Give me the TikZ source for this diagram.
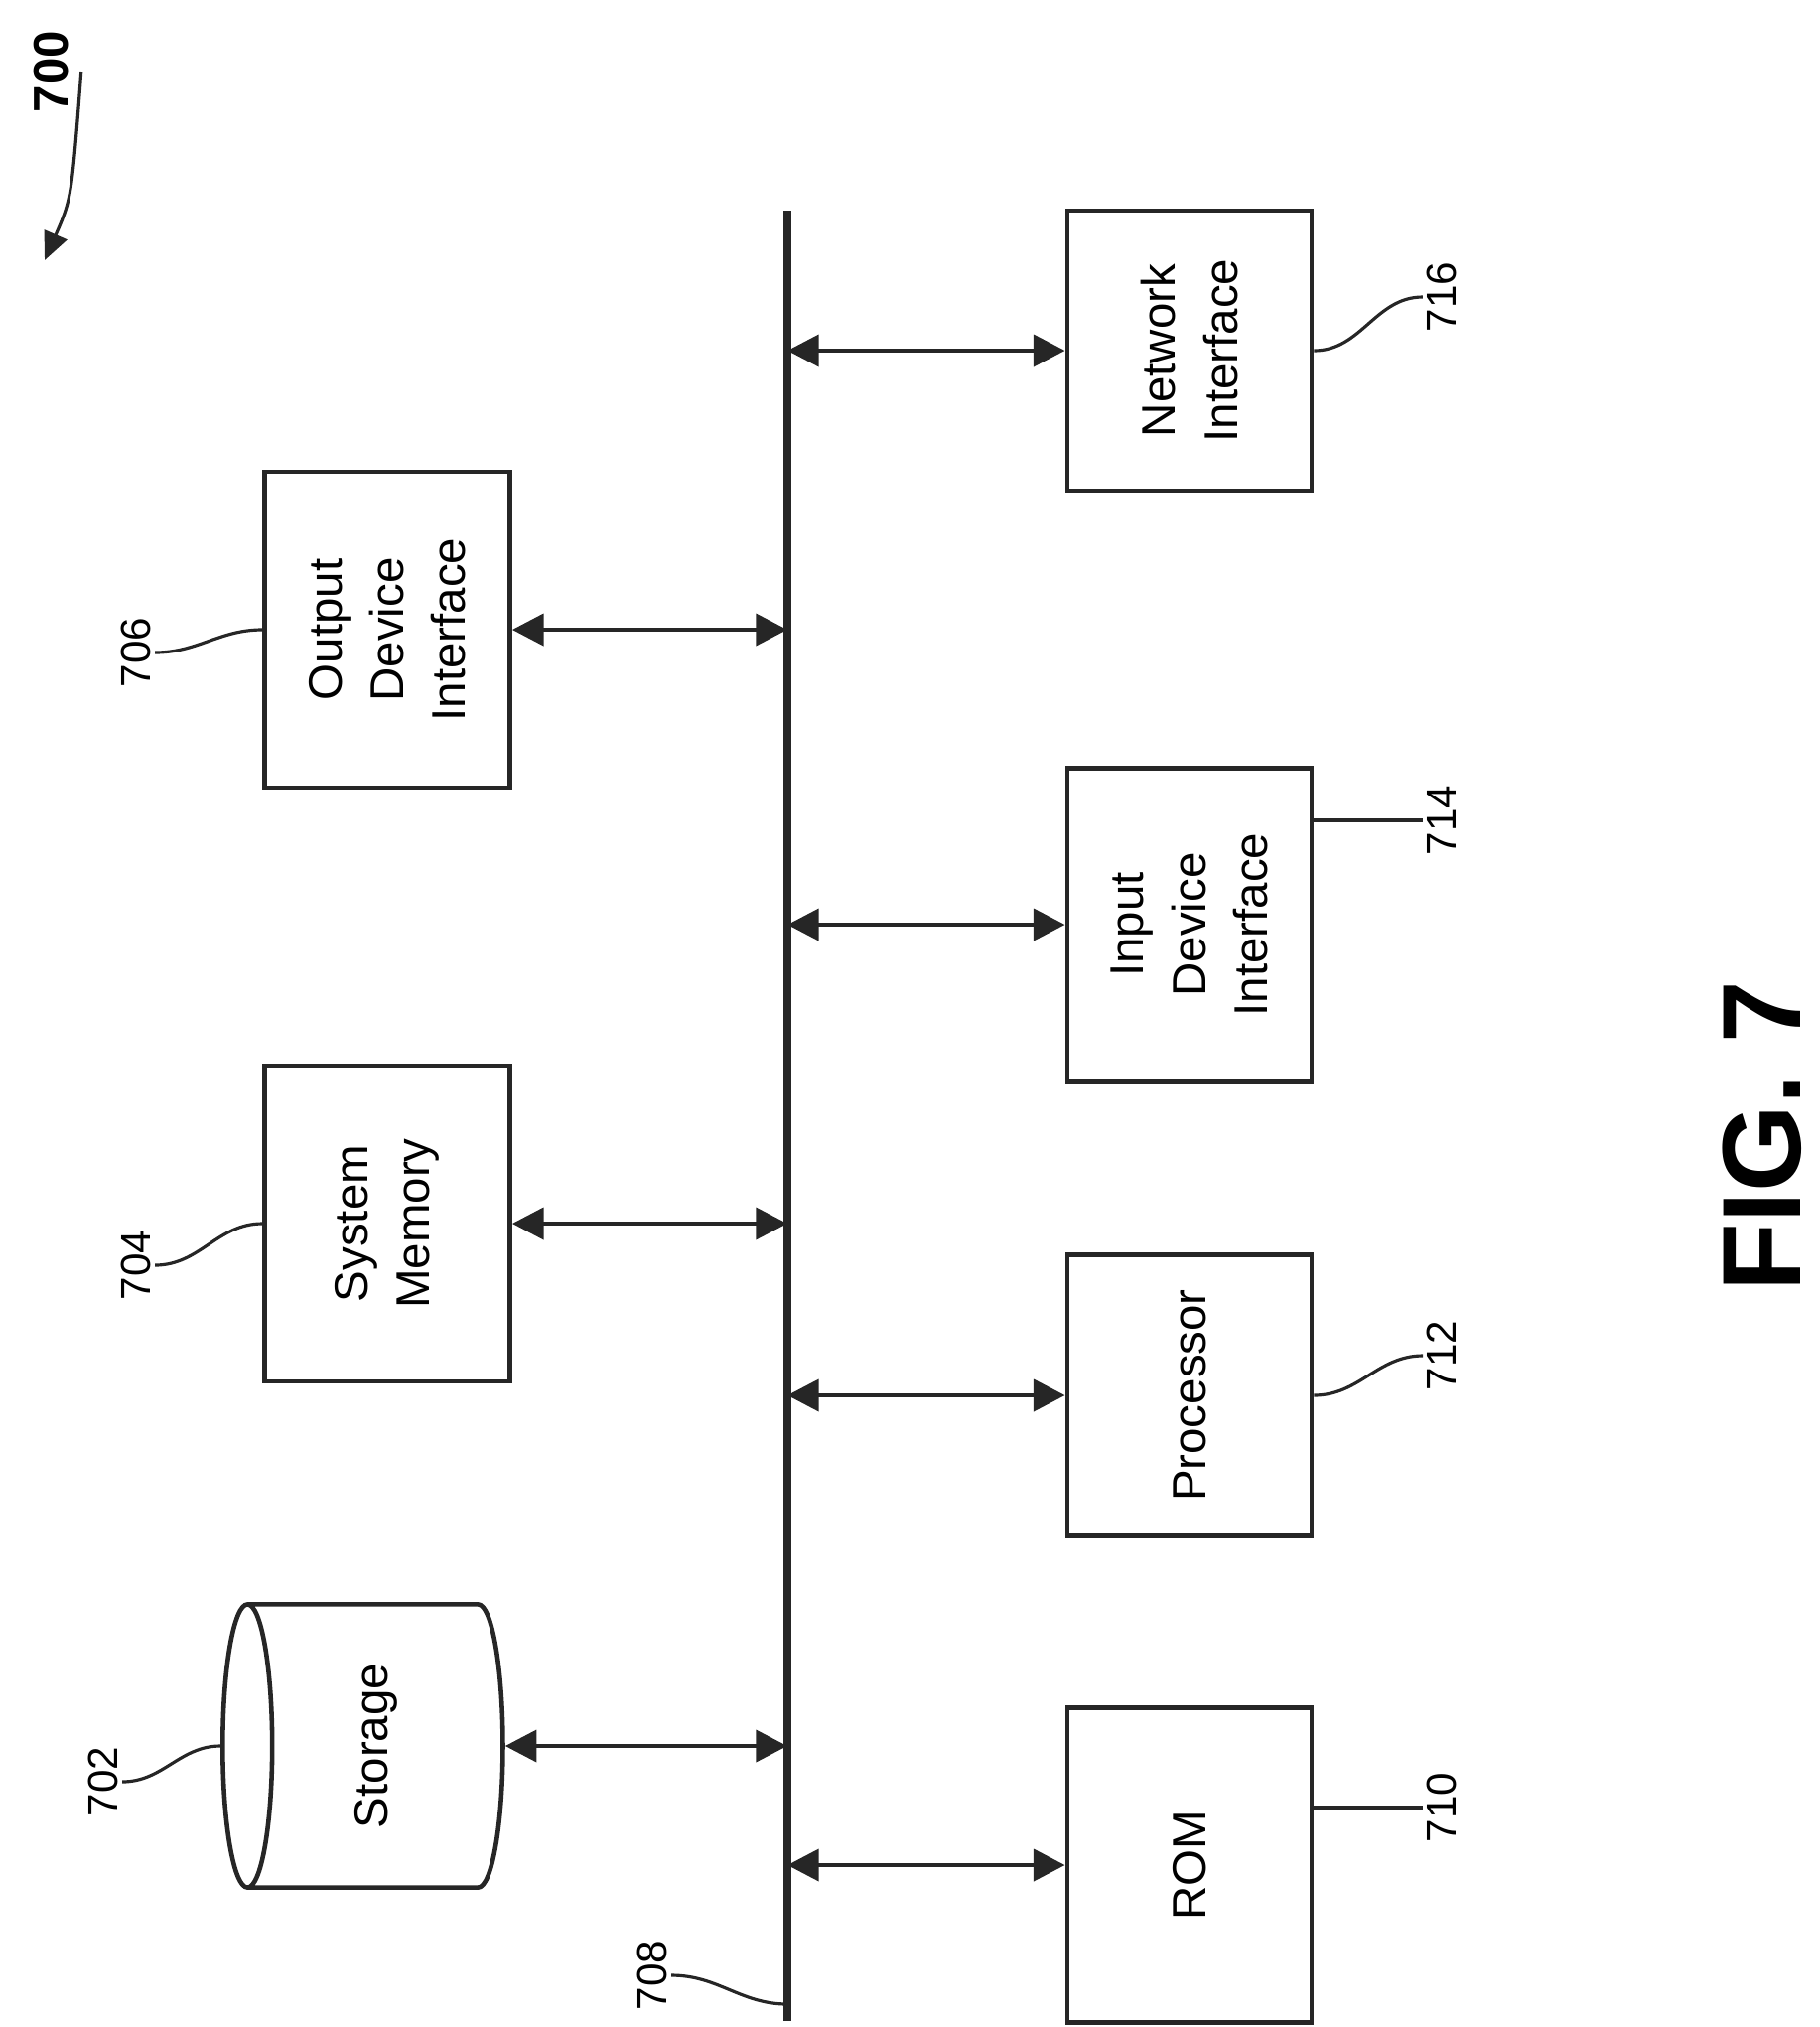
\documentclass[tikz,border=0pt]{standalone}
\usepackage{fontspec}
\setmainfont{Liberation Sans}
\usetikzlibrary{shapes.geometric, arrows.meta}
\newcommand{\leadline}[2]{
\draw[lead] (#1) to[out=0, in=180] (#2);
}
\begin{document}
\begin{tikzpicture}[x=0.01cm, y=-0.01cm,
% blocks
box/.style={draw=black!85, line width=1.3pt, rotate=90, align=center, font=\fontsize{13.5}{17.7}\selectfont, inner sep=0},
store/.style={box, cylinder, shape border rotate=90, aspect=0.3},
% reference numerals
num/.style={rotate=90, font=\fontsize{12}{14}\selectfont, inner sep=1pt},
lead/.style={black!85, line width=0.9pt},
% bus and links
bus/.style={black!85, line width=2.5pt},
link/.style={black!85, line width=1.4pt, {Triangle[length=9pt, width=9pt]}-{Triangle[length=9pt, width=9pt]}}
]

\useasboundingbox (0,0) rectangle (1832,2041);

% bus
\coordinate (bustop) at (793,212);
\coordinate (busbot) at (793,2035);
\draw[bus] (bustop) -- (busbot);

% right column
\node[box, minimum width=2.82cm, minimum height=2.46cm] (netif) at (1198,353) {Network\\Interface};
\node[box, minimum width=3.15cm, minimum height=2.46cm] (inif) at (1198,931) {Input\\Device\\Interface};
\node[box, minimum width=2.83cm, minimum height=2.46cm] (proc) at (1198,1405) {Processor};
\node[box, minimum width=3.17cm, minimum height=2.46cm] (rom) at (1198,1878) {ROM};

% left column
\node[box, minimum width=3.18cm, minimum height=2.47cm] (outif) at (390,634) {Output\\Device\\Interface};
\node[box, minimum width=3.18cm, minimum height=2.47cm] (sysmem) at (390,1232) {System\\Memory};
\node[store, minimum width=2.85cm, minimum height=2.82cm] (storage) at (379,1758) {Storage};

% links
\draw[link] (bustop|-netif) -- (netif.north|-netif);
\draw[link] (bustop|-inif) -- (inif.north|-inif);
\draw[link] (bustop|-proc) -- (proc.north|-proc);
\draw[link] (bustop|-rom) -- (rom.north|-rom);
\draw[link] (outif.south|-outif) -- (bustop|-outif);
\draw[link] (sysmem.south|-sysmem) -- (bustop|-sysmem);
\draw[link] (storage.south|-storage) -- (bustop|-storage);

% numerals
\node[num] (n716) at (1452,299) {716};
\node[num] (n714) at (1452,826) {714};
\node[num] (n712) at (1452,1365) {712};
\node[num] (n710) at (1452,1820) {710};
\node[num] (n706) at (137,657) {706};
\node[num] (n704) at (137,1274) {704};
\node[num] (n702) at (104,1794) {702};
\node[num] (n708) at (657,1989) {708};

\leadline{netif.south|-netif}{n716.north}
\leadline{inif.south|-n714}{n714.north}
\leadline{proc.south|-proc}{n712.north}
\leadline{rom.south|-n710}{n710.north}
\leadline{n706.south}{outif.north|-outif}
\leadline{n704.south}{sysmem.north|-sysmem}
\leadline{n702.south}{storage.north|-storage}
\coordinate (busend) at (793,2018);
\leadline{n708.south}{busend}

% figure number
\node[rotate=90, font=\fontsize{14}{16}\selectfont\bfseries] (n700) at (52,72) {700};
\coordinate (tip700) at (45,262);
\draw[lead, -{Triangle[length=8pt, width=7pt]}] (n700.south) .. controls (72,200) .. (tip700);
\node[rotate=90, font=\fontsize{32}{36}\selectfont\bfseries] (fig) at (1775,1144) {FIG. 7};

\end{tikzpicture}
\end{document}
